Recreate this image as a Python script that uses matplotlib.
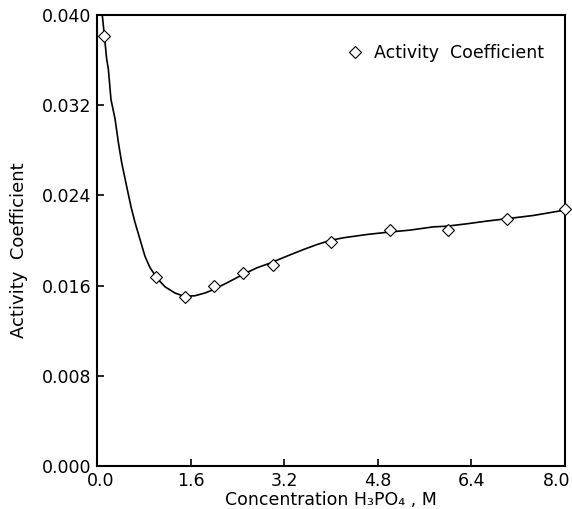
import matplotlib
matplotlib.use("Agg")
import matplotlib.pyplot as plt
from matplotlib.ticker import FormatStrFormatter
from matplotlib.transforms import ScaledTranslation

# measured activity coefficients
conc = [0.12, 1.0, 1.5, 2.0, 2.5, 3.0, 4.0, 5.0, 6.0, 7.0, 8.0]
gamma = [0.0381, 0.0168, 0.0150, 0.0160, 0.0171, 0.0178, 0.0199, 0.0209, 0.0209, 0.0219, 0.0228]

# fitted curve
fit_x = [0.08, 0.12, 0.165, 0.194, 0.239, 0.308, 0.365, 0.422, 0.507, 0.581, 0.65,
         0.735, 0.82, 0.906, 1.02, 1.16, 1.33, 1.49, 1.675, 1.85, 1.96, 2.22, 2.5,
         2.73, 2.96, 3.24, 3.53, 3.76, 3.98, 4.21, 4.61, 4.98, 5.35, 5.75, 5.98,
         6.32, 6.66, 7.0, 7.46, 8.0]
fit_y = [0.0405, 0.0385, 0.0361, 0.0352, 0.0325, 0.0308, 0.0287, 0.0269, 0.0248, 0.0230,
         0.0216, 0.0201, 0.0186, 0.0176, 0.0167, 0.0159, 0.01535, 0.01505, 0.0151,
         0.01535, 0.01558, 0.01624, 0.0170, 0.01757, 0.0180, 0.0186, 0.0192, 0.01964,
         0.0200, 0.02024, 0.02053, 0.02074, 0.02092, 0.02121, 0.02127, 0.02148,
         0.02172, 0.02193, 0.02222, 0.0227]

xticks = [0.0, 1.6, 3.2, 4.8, 6.4, 8.0]
yticks = [0.000, 0.008, 0.016, 0.024, 0.032, 0.040]

plt.rcParams['font.family'] = ['DejaVu Sans']
plt.rcParams['font.size'] = 12.5

fig = plt.figure(figsize=(5.72, 5.09), dpi=100)
ax = fig.add_axes([97 / 572, 43 / 509, 468 / 572, 451 / 509])

ax.plot(fit_x, fit_y, color='black', lw=1.2, zorder=2)
ax.plot(conc, gamma, ls='none', marker='D', ms=6.2, mfc='white', mec='black',
        mew=0.8, zorder=3, clip_on=False, label='Activity  Coefficient')

ax.set_xlim(0, 8.0)
ax.set_ylim(0, 0.040)
ax.set_xticks(xticks)
ax.set_yticks(yticks)
ax.xaxis.set_major_formatter(FormatStrFormatter('%.1f'))
ax.yaxis.set_major_formatter(FormatStrFormatter('%.3f'))
ax.tick_params(direction='in', length=5, width=1.2, pad=4, labelsize=12.5,
               top=False, right=False)
for s in ax.spines.values():
    s.set_linewidth(1.5)

# first and last x labels are nudged inward like the original
xt = ax.xaxis.get_major_ticks()
lab = xt[0].label1
lab.set_transform(lab.get_transform() + ScaledTranslation(0.04, 0, fig.dpi_scale_trans))
lab = xt[-1].label1
lab.set_transform(lab.get_transform() + ScaledTranslation(-0.08, 0, fig.dpi_scale_trans))

ax.set_xlabel('Concentration H\u2083PO\u2084 , M', fontsize=12.5, labelpad=1)
ax.set_ylabel('Activity  Coefficient', fontsize=13)
ax.yaxis.set_label_coords(-0.147, 0.479)

ax.legend(loc='upper right', frameon=False, fontsize=12.5, handletextpad=0.1,
          borderaxespad=0.6, bbox_to_anchor=(0.993, 0.975))

fig.savefig('out.png', dpi=100)
